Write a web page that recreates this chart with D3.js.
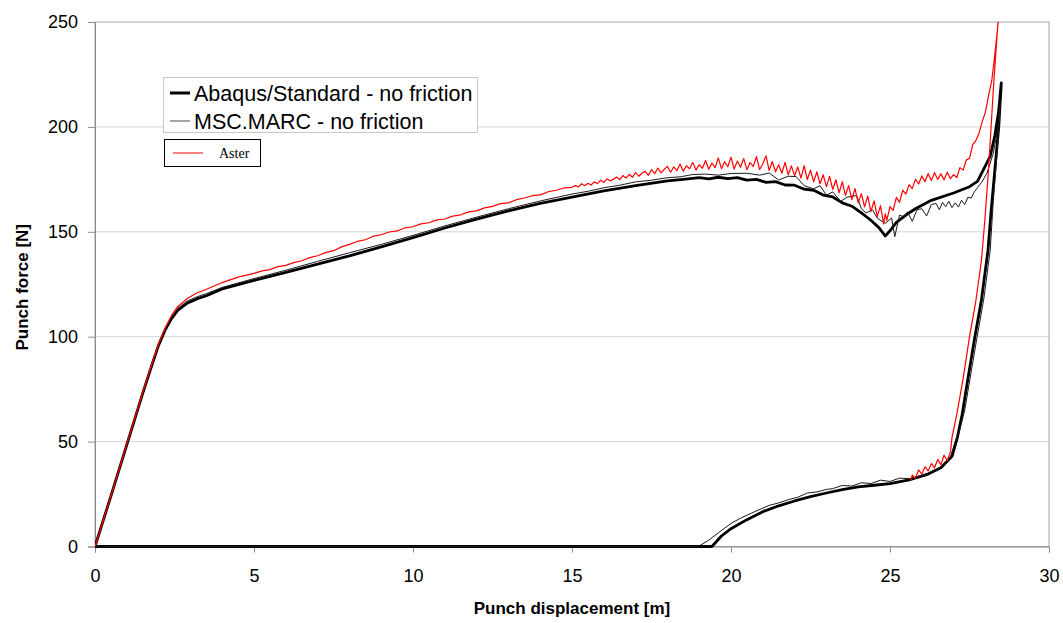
<!DOCTYPE html>
<html>
<head>
<meta charset="utf-8">
<script src="https://cdn.jsdelivr.net/npm/d3@7"></script>
<style>
  body { margin: 0; background: #fff; }
  svg { display: block; font-family: "Liberation Sans", Arial, sans-serif; }
</style>
</head>
<body>
<svg id="chart" width="1063" height="623"></svg>
<script>
// --- data: [displacement, force] ---
const xTicks = [0, 5, 10, 15, 20, 25, 30];
const yTicks = [0, 50, 100, 150, 200, 250];

const abaqus = [
  [0,0],[0.5,24],[1,48.5],[1.5,73],[1.8,87],[2,96],[2.2,103],[2.4,108.5],[2.6,112.5],[2.9,116],[3.2,118],[3.5,119.5],
  [4,122.8],[5,126.8],[6,130.7],[7,134.6],[8,138.5],[9,142.8],[10,147.2],[11,151.8],[12,156],[13,160],[14,163.5],[15,166.5],
  [16,169.5],[17,172],[18,174.3],[18.5,175],[19,175.8],[19.3,175.2],[19.6,176],[19.9,175.3],[20.2,175.8],[20.5,174.6],
  [20.8,175],[21.1,173.6],[21.4,173.9],[21.7,172.3],[22,172.2],[22.3,170.3],[22.6,169.8],[22.9,167.5],[23.2,166.6],
  [23.5,163.8],[23.8,162.2],[24.1,159],[24.4,155.5],[24.65,152],[24.85,148],[25,150.5],[25.2,154.5],[25.5,158],
  [25.8,161],[26.3,165],[27,168.5],[27.5,171.5],[27.75,174],[27.95,180],[28.15,186],[28.3,196],[28.42,208],[28.5,221],
  [28.42,200],[28.3,180],[28.18,160],[28.08,141],[27.88,118],[27.67,100],[27.45,80],[27.27,63],[27.12,52],[26.95,43],
  [26.6,37.5],[26.2,34.5],[25.6,31.7],[25,30],[24.5,29.2],[24,28.4],[23.5,27.1],[23,25.5],[22.5,23.8],[22,21.7],
  [21.5,19.4],[21,16.6],[20.5,12.8],[20,8.5],[19.7,5],[19.4,0],[0,0]
];

const marc = [
  [0,0],[0.5,24],[1,48.5],[1.5,73],[1.8,87],[2,96],[2.2,103.5],[2.4,109],[2.6,113.5],[2.9,117],[3.2,119],[3.5,120.5],
  [4,123.5],[5,127.7],[6,131.7],[7,135.9],[8,140],[9,144],[10,148.3],[11,152.8],[12,157],[13,161],[14,164.7],[15,168],
  [15.5,169.3],[16,171],[16.5,172.2],[17,173.8],[17.5,174.6],[18,175.8],[18.4,176.2],[18.8,177.3],[19.2,177.5],[19.6,177],
  [20,177.8],[20.5,177.9],[20.9,177],[21.2,178],[21.5,174.7],[21.8,176.5],[22.05,176.3],[22.3,172],[22.6,170.5],[22.8,172],
  [23,167.5],[23.2,169],[23.45,164.5],[23.65,166.5],[23.95,167.3],[24.1,161],[24.25,159],[24.45,160.5],[24.6,156.5],
  [24.85,154],[25.05,156.6],[25.15,147.7],[25.3,158],[25.45,157],[25.55,159.5],[25.7,155],[25.85,160.5],[26,161],
  [26.15,157.5],[26.3,163],[26.45,163.5],[26.55,160.5],[26.65,164],[26.75,162],[26.85,164.5],[26.95,161.5],[27.05,163.8],
  [27.15,161.8],[27.25,165],[27.35,163],[27.45,166.5],[27.55,166],[27.65,169],[27.75,171],[27.9,174],[28.05,178],
  [28.25,187.5],[28.4,200],[28.47,212],
  [28.38,190],[28.25,165],[28.15,141],[27.95,118],[27.74,100],[27.55,83],[27.35,65],[27.2,56],[27.05,50],[26.9,42.5],
  [26.6,38],[26.2,35],[25.9,33.5],[25.6,32.3],[25.3,32.6],[25,31],[24.7,31.6],[24.4,30],[24.1,30.4],[23.8,28.8],
  [23.5,29.1],[23.2,27.6],[23,27.2],[22.7,26],[22.4,25.5],[22.1,23.5],[21.8,22.3],[21.5,20.8],[21.2,19.6],[21,18.3],
  [20.6,15.6],[20.3,13.5],[20,11],[19.6,6.5],[19.3,3],[18.97,0],[0,0]
];

const aster = [
  [0,0],[0.5,24],[1,48.8],[1.5,73.5],[1.8,87.5],[2,96.5],[2.2,104],[2.4,110],[2.6,114.3],[2.9,118.2],[3.2,120.8],
  [3.6,123.2],[4,125.8],[4.5,128.4],[5,130.2],[5.25,131.4],[5.5,132],[5.75,133.4],[6,134],[6.25,135.3],[6.5,136.2],
  [6.75,137.7],[7,138.6],[7.25,140.1],[7.5,141],[7.75,142.8],[8,144],[8.25,145.4],[8.5,146.2],[8.75,147.9],[9,148.6],
  [9.25,149.9],[9.5,150.4],[9.75,151.9],[10,152.4],[10.25,153.8],[10.5,154.3],[10.75,155.7],[11,156.1],[11.25,157.5],
  [11.5,158.1],[11.75,159.5],[12,160],[12.25,161.4],[12.5,162.1],[12.75,163.4],[13,163.8],[13.25,165.3],[13.5,166.1],
  [13.75,167.2],[14,167.6],[14.25,169.1],[14.5,169.8],[14.75,170.9],
  [15,171.2],[15.1,172],[15.2,171.4],[15.3,172.9],[15.4,172],[15.5,173.1],[15.6,172.3],
  [15.7,173.8],[15.8,173],[15.9,174.6],[16,173.5],[16.1,175.2],[16.2,174.3],[16.3,175],[16.4,176.1],[16.5,174.9],
  [16.6,176.8],[16.7,175.6],[16.8,177.4],[16.9,176],[17,178.2],[17.1,176.5],[17.2,177.9],[17.3,178.8],[17.4,176.9],
  [17.5,179.6],[17.6,177.7],[17.7,180.4],[17.8,178.1],[17.9,179.7],[18,181.2],[18.1,178.4],[18.2,180.9],[18.3,179.2],
  [18.4,182.3],[18.5,178.9],[18.6,181.5],[18.7,180],[18.8,183.1],[18.9,179.4],[19,182],[19.1,180.3],[19.2,184],
  [19.3,179.8],[19.4,182.8],[19.5,180.6],[19.6,185.2],[19.7,180.1],[19.8,183.4],[19.9,181],[20,185.6],[20.1,179.9],
  [20.2,183.7],[20.3,180.8],[20.4,184.9],[20.5,179.6],[20.6,183],[20.7,181.2],[20.8,185.8],[20.9,179.7],[21,182.4],
  [21.1,186.2],[21.2,179.3],[21.3,183.5],[21.4,178.6],[21.5,182],[21.6,177.9],[21.7,183.1],[21.8,177.2],[21.9,181.4],
  [22,176.8],[22.1,180.9],[22.2,175.6],[22.3,181.5],[22.4,174.9],[22.5,179.4],[22.6,173.8],[22.7,178.6],[22.8,172.9],
  [22.9,177.2],[23,171.5],[23.1,176.4],[23.2,170.2],[23.3,174.8],[23.4,168.6],[23.5,173.9],[23.6,167.4],[23.7,172],
  [23.8,165.3],[23.9,170.6],[24,163.8],[24.1,168.2],[24.2,161.9],[24.3,167],[24.4,159.6],[24.5,164.8],[24.6,157.2],
  [24.7,162.5],[24.8,153.8],[24.85,158.5],[24.9,155.5],[25,162],[25.1,160.2],[25.2,166.4],[25.3,164],[25.4,169.8],
  [25.5,168],[25.6,172.5],[25.7,170.6],[25.8,175],[25.9,172.8],[26,176.6],[26.1,173.9],[26.2,177.8],[26.3,174.5],
  [26.4,178.2],[26.5,175],[26.6,177.6],[26.7,174.8],[26.8,178.4],[26.9,175.3],[27,177.2],[27.1,175.9],[27.2,180.6],
  [27.3,179.4],[27.4,184.2],[27.5,185],[27.6,191.5],[27.7,193.5],[27.8,197],[27.9,202.5],[28,207],
  [28.1,215],[28.2,222],[28.3,235],[28.4,249.5],[28.48,263],
  [28.4,251],[28.25,218],[28.1,180],[27.98,155],[27.88,137],[27.7,117],[27.5,100],[27.3,80],[27.1,63],[26.95,52],
  [26.9,45],[26.8,41],[26.7,43.5],[26.6,39],[26.5,41.5],[26.4,37.5],[26.3,39.5],[26.2,36],[26.1,38],[26,34.5],
  [25.9,36.5],[25.8,32.5],[25.7,34],[25.65,31.5]
];

const legendBig = ["Abaqus/Standard - no friction", "MSC.MARC - no friction"];
const legendSmall = "Aster";

// --- layout ---
const svg = d3.select("#chart");
const width = +svg.attr("width"), height = +svg.attr("height");
const margin = { top: 22, right: 14, bottom: 76.5, left: 95 };
const pw = width - margin.left - margin.right, ph = height - margin.top - margin.bottom;

const x = d3.scaleLinear().domain([0, 30]).range([margin.left, margin.left + pw]);
const y = d3.scaleLinear().domain([0, 250]).range([margin.top + ph, margin.top]);

// gridlines
svg.append("g").selectAll("line")
  .data(yTicks.filter(d => d > 0 && d < 250)).join("line")
  .attr("x1", x(0)).attr("x2", x(30))
  .attr("y1", d => y(d)).attr("y2", d => y(d))
  .attr("stroke", "#d4d4d4").attr("stroke-width", 1);

// plot border (top/right)
svg.append("rect")
  .attr("x", x(0)).attr("y", y(250)).attr("width", pw).attr("height", ph)
  .attr("fill", "none").attr("stroke", "#a6a6a6").attr("stroke-width", 1);

// axes
const yAxis = svg.append("g").attr("transform", `translate(${x(0)},0)`)
  .call(d3.axisLeft(y).tickValues(yTicks).tickSize(7).tickPadding(10));
const xAxis = svg.append("g").attr("transform", `translate(0,${y(0)})`)
  .call(d3.axisBottom(x).tickValues(xTicks).tickSize(6).tickPadding(17));
[xAxis, yAxis].forEach(a => {
  a.select(".domain").attr("stroke", "#8c8c8c");
  a.selectAll(".tick line").attr("stroke", "#8c8c8c");
  a.selectAll("text").attr("font-size", 18).attr("fill", "#000")
    .attr("font-family", "'Liberation Sans', Arial, sans-serif");
});

// curves
svg.append("clipPath").attr("id", "clip").append("rect")
  .attr("x", x(0)).attr("y", y(250)).attr("width", pw).attr("height", ph + 2);
const line = d3.line().x(d => x(d[0])).y(d => y(d[1]));
const curves = svg.append("g").attr("clip-path", "url(#clip)").attr("fill", "none")
  .attr("stroke-linejoin", "round");
curves.append("path").datum(abaqus).attr("d", line).attr("stroke", "#000").attr("stroke-width", 2.8);
curves.append("path").datum(marc).attr("d", line).attr("stroke", "#1a1a1a").attr("stroke-width", 1);
curves.append("path").datum(aster).attr("d", line).attr("stroke", "#ff0000").attr("stroke-width", 1.2);

// axis titles
svg.append("text")
  .attr("x", x(15)).attr("y", 614)
  .attr("text-anchor", "middle").attr("font-size", 17).attr("font-weight", "bold")
  .text("Punch displacement [m]");
svg.append("text")
  .attr("transform", `translate(28,${y(125) + 3}) rotate(-90)`)
  .attr("text-anchor", "middle").attr("font-size", 17).attr("font-weight", "bold")
  .text("Punch force [N]");

// legend 1
const lg = svg.append("g");
lg.append("rect").attr("x", 163.5).attr("y", 77.5).attr("width", 314).attr("height", 55)
  .attr("fill", "#fff").attr("stroke", "#c8c8c8");
legendBig.forEach((t, i) => {
  const yy = 93 + i * 28;
  lg.append("line").attr("x1", 170).attr("x2", 190).attr("y1", yy).attr("y2", yy)
    .attr("stroke", i === 0 ? "#000" : "#666").attr("stroke-width", i === 0 ? 3 : 1.2);
  lg.append("text").attr("x", 194).attr("y", yy + 7.5).attr("font-size", 21.5).text(t);
});

// legend 2
lg.append("rect").attr("x", 164.5).attr("y", 139.5).attr("width", 96).attr("height", 27)
  .attr("fill", "#fff").attr("stroke", "#000");
lg.append("line").attr("x1", 173).attr("x2", 203).attr("y1", 153).attr("y2", 153)
  .attr("stroke", "#ff0000").attr("stroke-width", 1);
lg.append("text").attr("x", 219).attr("y", 158).attr("font-size", 14)
  .attr("font-family", "'Liberation Serif', 'Times New Roman', serif").text(legendSmall);
</script>
</body>
</html>
